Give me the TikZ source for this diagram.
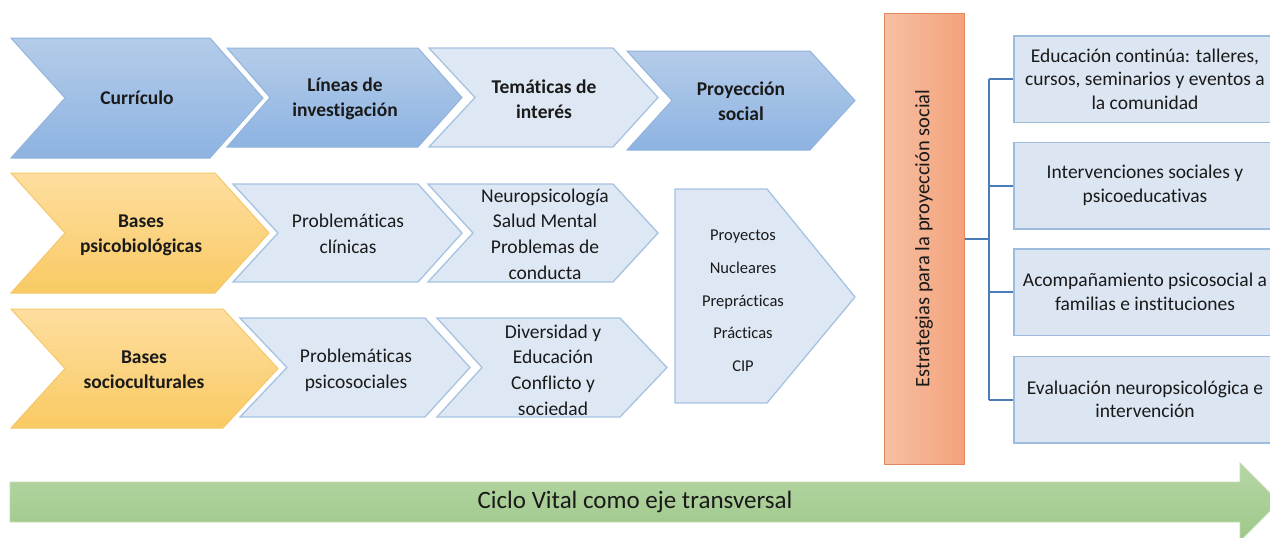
\documentclass[tikz,border=0pt]{standalone}
\usepackage{fontspec}
\setmainfont{Carlito}[Ligatures=NoCommon]
\definecolor{dbTop}{HTML}{B4CCE9}
\definecolor{dbBot}{HTML}{8DB3E2}
\definecolor{dbLine}{HTML}{93B4DC}
\definecolor{ltFill}{HTML}{DEE8F4}
\definecolor{ltLine}{HTML}{A6C2E1}
\definecolor{yeTop}{HTML}{FEDE9F}
\definecolor{yeBot}{HTML}{F9CA64}
\definecolor{yeLine}{HTML}{F5C76A}
\definecolor{orL}{HTML}{F6C0A2}
\definecolor{orR}{HTML}{F4A27C}
\definecolor{orLine}{HTML}{E4895C}
\definecolor{grTop}{HTML}{B6D6A5}
\definecolor{grBot}{HTML}{9DC889}
\definecolor{grLine}{HTML}{C2DDB3}
\definecolor{boxFill}{HTML}{DCE6F2}
\definecolor{boxLine}{HTML}{9DBBDD}
\definecolor{connC}{HTML}{4A7DB8}
\definecolor{txt}{HTML}{1A1A1A}
\newcommand\chevshape[7]{%
  \path[#1] (#2,#3) -- ({#4-#7},#3) -- (#4,{(#3+#5)/2}) -- ({#4-#7},#5) -- (#2,#5) -- ({#2+#6},{(#3+#5)/2}) -- cycle;}
\begin{document}
\begin{tikzpicture}[
  x=1pt, y=-1pt,
  dkblue/.style={top color=dbTop, bottom color=dbBot, draw=dbLine, line width=1pt},
  ltblue/.style={fill=ltFill, draw=ltLine, line width=1.3pt},
  yellowc/.style={top color=yeTop, bottom color=yeBot, draw=yeLine, line width=1pt},
  boldtxt/.style={font=\fontsize{19.5}{25}\selectfont\bfseries, align=center, text=txt, inner sep=0pt},
  plaintxt/.style={font=\fontsize{19.5}{25.7}\selectfont, align=center, text=txt, inner sep=0pt},
  listtxt/.style={font=\fontsize{16.5}{32.75}\selectfont, align=center, text=txt, inner sep=0pt},
  rbox/.style={rectangle, fill=boxFill, draw=boxLine, line width=1.5pt, minimum width=262pt, minimum height=86.5pt, inner sep=0pt, align=center, text=txt, font=\fontsize{19.5}{23.5}\selectfont},
  estbox/.style={rectangle, left color=orL, right color=orR, draw=orLine, line width=1pt, minimum width=80pt, minimum height=451pt, inner sep=0pt},
  conn/.style={draw=connC, line width=2pt},
  greenarr/.style={top color=grTop, bottom color=grBot, draw=grLine, line width=0.8pt}
]
\useasboundingbox (0,0) rectangle (1270,538);
\clip (0,0) rectangle (1270,538);
\fill[white] (0,0) rectangle (1270,538);

% Row 1
\chevshape{dkblue}{11}{38}{263}{158}{54}{53}
\chevshape{dkblue}{227}{48}{462}{147}{43}{44}
\chevshape{ltblue}{429}{48}{658}{147}{46}{45}
\chevshape{dkblue}{627}{51}{855}{150}{45}{45}
\node[boldtxt] (curr) at (137,98) {Currículo};
\node[boldtxt] (lineas) at (345,99) {Líneas de\\investigación};
\node[boldtxt] (tematicas) at (544,99) {Temáticas de\\interés};
\node[boldtxt] (proy) at (741,101) {Proyección\\social};

% Row 2
\chevshape{yellowc}{11}{173}{269}{293}{54}{54}
\chevshape{ltblue}{233}{184}{462}{282}{45}{44}
\chevshape{ltblue}{428}{184}{658}{282}{45}{45}
\path[ltblue] (675,189) -- (767,189) -- (855,297) -- (767,403) -- (675,403) -- cycle;
\node[boldtxt] (psicobio) at (141,235) {Bases\\psicobiológicas};
\node[plaintxt] (clinicas) at (348,234) {Problemáticas\\clínicas};
\node[plaintxt] (neuro) at (545,234) {Neuropsicología\\Salud Mental\\Problemas de\\conducta};
\node[listtxt] (proyectos) at (743,301) {Proyectos\\Nucleares\\Preprácticas\\Prácticas\\CIP};

% Row 3
\chevshape{yellowc}{11}{309}{278}{428}{54}{55}
\chevshape{ltblue}{240}{318}{470}{417}{47}{45}
\chevshape{ltblue}{437}{318}{667}{417}{45}{47}
\node[boldtxt] (sociocult) at (144,370) {Bases\\socioculturales};
\node[plaintxt] (psicosoc) at (356,370) {Problemáticas\\psicosociales};
\node[plaintxt] (diversidad) at (553,370) {Diversidad y\\Educación\\Conflicto y\\sociedad};

% Strategies
\node[estbox] (est) at (924,238.5) {};
\node[rotate=90, font=\fontsize{20.5}{24}\selectfont, text=txt, inner sep=0pt] (esttxt) at (est.center) {Estrategias para la proyección social};

\node[rbox] (b1) at (1145,79) {Educación continúa: talleres,\\cursos, seminarios y eventos a\\la comunidad};
\node[rbox] (b2) at (1145,185.5) {Intervenciones sociales y\\psicoeducativas};
\node[rbox] (b3) at (1145,292) {Acompañamiento psicosocial a\\familias e instituciones};
\node[rbox] (b4) at (1145,399.5) {Evaluación neuropsicológica e\\intervención};

\coordinate (junc) at (989,238.5);
\draw[conn] (est.east) -- (junc);
\draw[conn] (junc |- b1.west) -- (junc |- b4.west);
\draw[conn] (junc |- b1.west) -- (b1.west);
\draw[conn] (junc |- b2.west) -- (b2.west);
\draw[conn] (junc |- b3.west) -- (b3.west);
\draw[conn] (junc |- b4.west) -- (b4.west);

% Green arrow
\path[greenarr] (10,482) -- (1240,482) -- (1240,463) -- (1279,502) -- (1240,541) -- (1240,522) -- (10,522) -- cycle;
\node[font=\fontsize{25}{30}\selectfont, text=txt, inner sep=0pt] (ciclo) at (635,502) {Ciclo Vital como eje transversal};
\end{tikzpicture}
\end{document}
